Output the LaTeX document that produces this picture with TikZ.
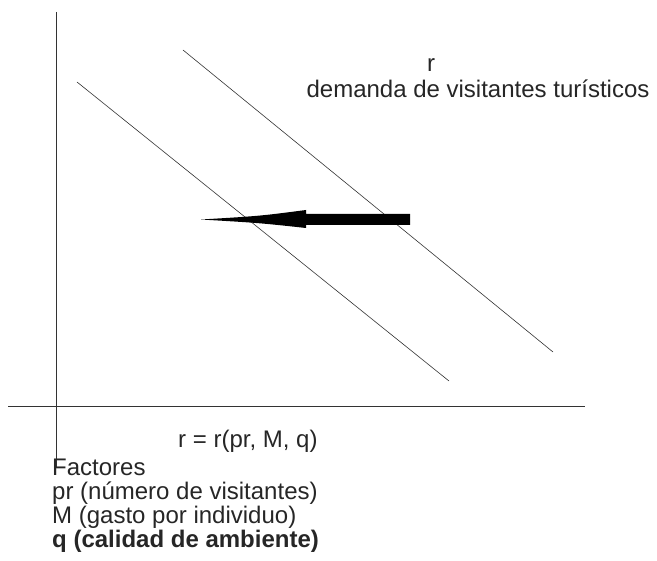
\documentclass[tikz,border=0pt]{standalone}
\usepackage{fontspec}
\setmainfont{Liberation Sans}
\usetikzlibrary{positioning}
\tikzset{
	label text/.style={font=\fontsize{24}{24}\selectfont, inner sep=0pt, text=black!85},
	demand/.style={draw=black!80, line width=0.6pt}
}

\begin{document}
\begin{tikzpicture}[x=1pt, y=-1pt]
		\useasboundingbox (0,0) rectangle (657,561);
		
		% ejes
		\coordinate (yTop) at (56,12);
		\coordinate (yBot) at (56,468);
		\coordinate (xL) at (8,406);
		\coordinate (xR) at (585,406);
		\draw[line width=0.8pt, black!80] (yTop) -- (yBot);
		\draw[line width=0.8pt, black!80] (xL) -- (xR);
		
		% curvas de demanda
		\coordinate (A1) at (77,82);
		\coordinate (A2) at (449,381);
		\coordinate (B1) at (183,50);
		\coordinate (B2) at (553,352);
		\draw[demand] (A1) -- (A2);
		\draw[demand] (B1) -- (B2);
		
		% flecha (desplazamiento)
		\coordinate (tail) at (410,214);
		\coordinate (tip) at (201,219.5);
		\fill[black] (tail) -- (306,214) -- (306,210) .. controls (260,216) .. (tip)
			.. controls (260,223) .. (306,228) -- (306,225) -- (410,225) -- cycle;
		
		% textos
		\node[label text, anchor=base] (rTop) at (431,72) {r};
		\node[label text, anchor=base] (dem) at (478,98) {demanda de visitantes turísticos};
		\node[label text, anchor=base west] (func) at (178,448) {r = r(pr, M, q)};
		\node[label text, anchor=base west] (fac) at (52,476) {Factores};
		\node[label text, anchor=base west] (pr) at (52,500) {pr (número de visitantes)};
		\node[label text, anchor=base west] (gasto) at (52,524) {M (gasto por individuo)};
		\node[label text, anchor=base west, font=\fontsize{24}{24}\selectfont\bfseries] (cal) at (52,548) {q (calidad de ambiente)};
		
	\end{tikzpicture}
\end{document}
